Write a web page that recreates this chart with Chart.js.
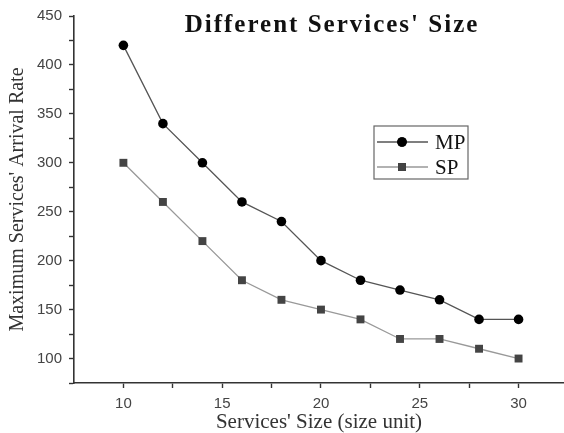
<!DOCTYPE html>
<html>
<head>
<meta charset="utf-8">
<script src="https://cdn.jsdelivr.net/npm/chart.js@4.4.1/dist/chart.umd.min.js"></script>
<style>
  html, body { margin: 0; padding: 0; background: #fff; }
  #wrap { width: 564px; height: 433px; }
</style>
</head>
<body>
<div id="wrap"><canvas id="myChart"></canvas></div>
<script>
// data
const sizes = [10, 12, 14, 16, 18, 20, 22, 24, 26, 28, 30];
const mpRate = [420, 340, 300, 260, 240, 200, 180, 170, 160, 140, 140];
const spRate = [300, 260, 220, 180, 160, 150, 140, 120, 120, 110, 100];
const xTicks = [10, 12.5, 15, 17.5, 20, 22.5, 25, 27.5, 30];
const yTicks = [75, 100, 125, 150, 175, 200, 225, 250, 275, 300, 325, 350, 375, 400, 425, 450];
const chartTitle = "Different Services' Size";

const serif = "'Liberation Serif', 'Times New Roman', serif";
const sans = "'Liberation Sans', Arial, sans-serif";

// title drawn over the plot, like the original
const titlePlugin = {
    id: 'innerTitle',
    afterDraw(chart) {
        const { ctx, chartArea } = chart;
        ctx.save();
        ctx.font = 'bold 25px ' + serif;
        ctx.letterSpacing = '2px';
        ctx.fillStyle = '#111';
        ctx.textAlign = 'center';
        ctx.textBaseline = 'alphabetic';
        ctx.fillText(chartTitle, chartArea.left + 258, chartArea.top + 16);
        ctx.restore();
    }
};

// boxed legend inside the plot
const boxLegend = {
    id: 'boxLegend',
    afterDraw(chart) {
        const { ctx, chartArea } = chart;
        const x0 = chartArea.left + 300, y0 = chartArea.top + 110;
        const w = 94, h = 53, rowH = 25;
        ctx.save();
        ctx.strokeStyle = '#666';
        ctx.lineWidth = 1.2;
        ctx.strokeRect(x0, y0, w, h);
        chart.data.datasets.forEach((ds, i) => {
            const y = y0 + 16 + i * rowH;
            ctx.strokeStyle = ds.borderColor;
            ctx.lineWidth = ds.borderWidth;
            ctx.beginPath();
            ctx.moveTo(x0 + 3, y);
            ctx.lineTo(x0 + 54, y);
            ctx.stroke();
            Chart.helpers.drawPoint(ctx, {
                pointStyle: ds.pointStyle,
                radius: ds.pointRadius,
                borderWidth: 0
            }, x0 + 28, y);
            ctx.fillStyle = ds.pointBackgroundColor;
            ctx.fill();
            ctx.fillStyle = '#111';
            ctx.font = '21px ' + serif;
            ctx.textAlign = 'left';
            ctx.textBaseline = 'middle';
            ctx.fillText(ds.label, x0 + 61, y + 1);
        });
        ctx.restore();
    }
};

const ctx = document.getElementById('myChart').getContext('2d');
const myChart = new Chart(ctx, {
    type: 'line',
    data: {
        datasets: [{
            label: 'MP',
            data: sizes.map((s, i) => ({ x: s, y: mpRate[i] })),
            borderColor: '#555',
            borderWidth: 1.3,
            pointStyle: 'circle',
            pointRadius: 4.8,
            pointBackgroundColor: '#000',
            pointBorderWidth: 0,
            fill: false
        }, {
            label: 'SP',
            data: sizes.map((s, i) => ({ x: s, y: spRate[i] })),
            borderColor: '#999',
            borderWidth: 1.3,
            pointStyle: 'rect',
            pointRadius: 5.6,
            pointBackgroundColor: '#444',
            pointBorderWidth: 0,
            fill: false
        }]
    },
    options: {
        responsive: true,
        maintainAspectRatio: false,
        animation: false,
        layout: { autoPadding: false, padding: { top: 15, right: 0, left: 0, bottom: 0 } },
        plugins: {
            legend: { display: false },
            tooltip: { enabled: false }
        },
        scales: {
            x: {
                type: 'linear',
                min: 7.5,
                max: 32.3,
                afterBuildTicks: (scale) => { scale.ticks = xTicks.map(v => ({ value: v })); },
                afterFit: (scale) => {
                    scale.height = 50;
                    scale.paddingRight = 0;
                    scale.paddingLeft = 0;
                },
                border: { display: true, color: '#333', width: 1.6 },
                grid: { drawOnChartArea: false, drawTicks: true, tickLength: 5, color: '#333', tickWidth: 1.4 },
                ticks: {
                    padding: 7,
                    autoSkip: false,
                    maxRotation: 0,
                    color: '#444',
                    font: { family: sans, size: 15 },
                    callback: (v) => (v % 5 === 0 ? v : '')
                },
                title: {
                    display: true,
                    text: "Services' Size (size unit)",
                    color: '#333',
                    font: { family: serif, size: 21, lineHeight: 1.0 },
                    padding: { top: 0, bottom: 0 }
                }
            },
            y: {
                min: 75,
                max: 450,
                afterBuildTicks: (scale) => { scale.ticks = yTicks.map(v => ({ value: v })); },
                afterFit: (scale) => { scale.width = 74; },
                border: { display: true, color: '#333', width: 1.6 },
                grid: { drawOnChartArea: false, drawTicks: true, tickLength: 5, color: '#333', tickWidth: 1.4 },
                ticks: {
                    padding: 7,
                    autoSkip: false,
                    color: '#444',
                    font: { family: sans, size: 15 },
                    callback: (v) => (v % 50 === 0 && v >= 100 ? v : '')
                },
                title: {
                    display: true,
                    text: "Maximum Services' Arrival Rate",
                    color: '#333',
                    font: { family: serif, size: 20 },
                    padding: { top: 6, bottom: 0 }
                }
            }
        }
    },
    plugins: [titlePlugin, boxLegend]
});
</script>
</body>
</html>
